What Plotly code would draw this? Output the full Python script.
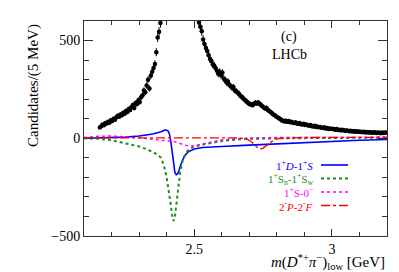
import numpy as np
import plotly.graph_objects as go

# ---- data: m(D*+ pi-)_low spectrum, 5 MeV bins starting at 2.1575 GeV ----
bin_start = 2.1575
bin_width = 0.005
counts = [
    55, 62, 70, 66, 78, 75, 85, 80, 92, 88,
    100, 95, 108, 115, 110, 122, 118, 130, 125, 140,
    135, 150, 145, 160, 170, 155, 180, 175, 195, 185,
    210, 220, 245, 235, 270, 300, 255, 320, 340, 360,
    380, 440, 515, 545, 590, 660, 780, 920, 1100, 1300,
    1550, 1750, 1850, 1800, 1600, 1400, 1300, 1350, 1450, 1500,
    1400, 1200, 1000, 880, 790, 730, 690, 660, 640, 625,
    640, 615, 592, 570, 548, 505, 482, 462, 447, 425,
    405, 395, 378, 372, 360, 345, 330, 340, 322, 335,
    305, 298, 285, 290, 272, 268, 258, 262, 245, 240,
    234, 228, 218, 212, 205, 198, 192, 185, 178, 175,
    172, 170, 176, 182, 178, 183, 176, 170, 164, 158,
    152, 155, 145, 140, 135, 128, 122, 118, 112, 108,
    102, 98, 92, 90, 86, 90, 84, 88, 82, 85,
    80, 78, 82, 76, 74, 78, 72, 70, 74, 68,
    70, 66, 64, 68, 62, 60, 64, 58, 60, 56,
    58, 54, 52, 56, 50, 52, 48, 50, 47, 49,
    46, 44, 47, 42, 44, 40, 43, 41, 38, 40,
    38, 36, 39, 35, 37, 34, 36, 33, 35, 32,
    34, 31, 33, 30, 32, 29, 31, 30, 28, 31,
    29, 27, 30, 28, 26, 29, 27, 30, 28,
]
mass = bin_start + bin_width * np.arange(len(counts))
errors = np.sqrt(np.array(counts, dtype=float))

# interference components
blue_x = [2.1, 2.2, 2.25, 2.3, 2.35, 2.38, 2.395, 2.405, 2.41, 2.415, 2.42, 2.425, 2.43, 2.435,
          2.44, 2.445, 2.45, 2.46, 2.47, 2.48, 2.5, 2.53, 2.56, 2.6, 2.7, 2.8, 2.9, 3.0, 3.1, 3.2]
blue_y = [0, 3, 6, 12, 22, 33, 43, 38, 22, -15, -75, -135, -175, -186,
          -182, -165, -140, -105, -82, -68, -55, -47, -44, -42, -35, -28, -21, -15, -10, -6]

green_x = [2.1, 2.15, 2.2, 2.25, 2.3, 2.33, 2.36, 2.38, 2.39, 2.40, 2.41, 2.415, 2.42, 2.425, 2.43,
           2.435, 2.44, 2.445, 2.45, 2.46, 2.47, 2.48, 2.5, 2.54, 2.6, 2.65, 2.7, 2.8, 3.0, 3.2]
green_y = [0, -2, -10, -25, -42, -57, -78, -100, -140, -200, -285, -340, -395, -423, -400,
           -345, -275, -215, -165, -105, -75, -58, -42, -30, -14, -7, -3, 0, 2, 3]

mag_x = [2.1, 2.15, 2.2, 2.25, 2.3, 2.35, 2.4, 2.43, 2.46, 2.48, 2.5, 2.53, 2.56, 2.6, 2.65,
         2.7, 2.8, 3.0, 3.2]
mag_y = [4, 10, 12, 8, 2, -5, -12, -18, -32, -40, -38, -28, -18, -8, -2, 2, 4, 5, 5]

red_x = [2.1, 2.3, 2.5, 2.65, 2.69, 2.71, 2.73, 2.74, 2.75, 2.77, 2.79, 2.81, 2.9, 3.2]
red_y = [2, 2, 3, 2, -2, -20, -48, -55, -50, -30, -8, 0, 4, 5]

labels = [
    "1<sup>+</sup><i>D</i>-1<sup>+</sup><i>S</i>",
    "1<sup>+</sup>S<sub>n</sub>-1<sup>+</sup>S<sub>w</sub>",
    "1<sup>+</sup>S-0<sup>−</sup>",
    "2<sup>-</sup><i>P</i>-2<sup>-</sup><i>F</i>",
]
colors = ["#0000ff", "#1e8c1e", "#ff00ff", "#ff0000"]
dashes = ["solid", "dot", "dot", "dashdot"]
widths = [1.6, 2.0, 1.4, 1.4]

xr = [2.1, 3.2]
yr = [-500, 600]

FONT = "Liberation Serif"

fig = go.Figure()

curves = [(blue_x, blue_y), (green_x, green_y), (mag_x, mag_y), (red_x, red_y)]
for (cx, cy), c, d, w in zip(curves, colors, dashes, widths):
    fig.add_trace(go.Scatter(x=cx, y=cy, mode="lines",
                             line=dict(color=c, dash=d, width=w), showlegend=False))

fig.add_trace(go.Scatter(
    x=mass, y=counts, mode="markers",
    marker=dict(color="black", size=4.5),
    error_y=dict(type="data", array=errors, color="black", thickness=1, width=0),
    showlegend=False))

axis_common = dict(showline=True, linecolor="#333333", linewidth=1, mirror="ticks",
                   ticks="inside", tickcolor="#333333", showgrid=False, zeroline=False,
                   automargin=False,
                   tickfont=dict(family=FONT, size=14, color="black"))

fig.update_xaxes(range=xr, tickvals=[2.5, 3.0], ticktext=["2.5", "3"], ticklen=7,
                 minor=dict(dtick=0.1, tick0=2.1, ticklen=4, ticks="inside", tickcolor="#333333"),
                 **axis_common)
fig.update_yaxes(range=yr, tickvals=[-500, 0, 500], ticktext=["−500", "0", "500"], ticklen=9,
                 minor=dict(dtick=100, tick0=0, ticklen=5, ticks="inside", tickcolor="#333333"),
                 **axis_common)

L, R, T, B = 76, 20, 13, 44
W, H = 399, 272
pw, ph = W - L - R, H - T - B

def px(xpix):
    return (xpix - L) / pw

def py(ypix):
    return (H - B - ypix) / ph

ann = [
    dict(text="(c)", x=px(281), y=py(29), size=14, xanchor="center", color="black"),
    dict(text="LHCb", x=px(281), y=py(47), size=14, xanchor="center", color="black"),
]
for a in ann:
    fig.add_annotation(text=a["text"], x=a["x"], y=a["y"], xref="paper", yref="paper",
                       xanchor=a["xanchor"], yanchor="middle", showarrow=False,
                       font=dict(family=FONT, size=a["size"], color=a["color"]))

fig.add_annotation(text="Candidates/(5 MeV)", x=px(25), y=py(78), xref="paper", yref="paper",
                   textangle=-90, showarrow=False, xanchor="center", yanchor="middle",
                   font=dict(family=FONT, size=15, color="black"))
fig.add_annotation(text="<i>m</i>(<i>D</i><sup>*+</sup><i>π</i><sup>−</sup>)<sub>low</sub> [GeV]",
                   x=px(379), y=py(254), xref="paper", yref="paper",
                   showarrow=False, xanchor="right", yanchor="middle",
                   font=dict(family=FONT, size=15, color="black"))

leg_y = [157, 170.5, 184, 197.5]
for lab, c, d, w, yy in zip(labels, colors, dashes, widths, leg_y):
    fig.add_annotation(text=lab, x=px(307), y=py(yy), xref="paper", yref="paper",
                       showarrow=False, xanchor="right", yanchor="middle",
                       font=dict(family=FONT, size=11, color=c))
    fig.add_shape(type="line", xref="paper", yref="paper",
                  x0=px(313), x1=px(340), y0=py(yy), y1=py(yy),
                  line=dict(color=c, dash=d, width=w))

fig.update_layout(width=W, height=H, margin=dict(l=L, r=R, t=T, b=B),
                  plot_bgcolor="white", paper_bgcolor="white", showlegend=False)

fig.write_html("out.html")
